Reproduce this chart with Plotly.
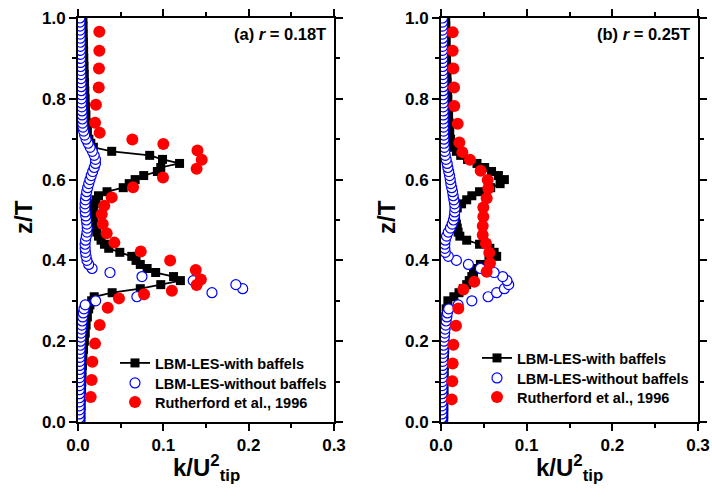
import plotly.graph_objects as go

# ---------------- data ----------------
# common simulation grid (z/T) for the "without baffels" profiles
z_grid = [
    0.00, 0.01, 0.02, 0.03, 0.04, 0.05, 0.06, 0.07, 0.08, 0.09,
    0.10, 0.11, 0.12, 0.13, 0.14, 0.15, 0.16, 0.17, 0.18, 0.19,
    0.20, 0.21, 0.22, 0.23, 0.24, 0.25, 0.26, 0.27, 0.28, 0.29,
    0.30, 0.31, 0.32, 0.33, 0.34, 0.35, 0.36, 0.37, 0.38, 0.39,
    0.40, 0.41, 0.42, 0.43, 0.44, 0.45, 0.46, 0.47, 0.48, 0.49,
    0.50, 0.51, 0.52, 0.53, 0.54, 0.55, 0.56, 0.57, 0.58, 0.59,
    0.60, 0.61, 0.62, 0.63, 0.64, 0.65, 0.66, 0.67, 0.68, 0.69,
    0.70, 0.71, 0.72, 0.73, 0.74, 0.75, 0.76, 0.77, 0.78, 0.79,
    0.80, 0.81, 0.82, 0.83, 0.84, 0.85, 0.86, 0.87, 0.88, 0.89,
    0.90, 0.91, 0.92, 0.93, 0.94, 0.95, 0.96, 0.97, 0.98, 0.99, 1.00,
]

# (a) r = 0.18T : LBM-LES-without baffels
nb_a_k = [
    0.0015, 0.0015, 0.0015, 0.0016, 0.0016, 0.0016, 0.0017, 0.0017, 0.0017, 0.0018,
    0.0018, 0.0019, 0.0019, 0.0020, 0.0020, 0.0021, 0.0022, 0.0023, 0.0025, 0.0027,
    0.0030, 0.0033, 0.0036, 0.0040, 0.0044, 0.0049, 0.0055, 0.0062, 0.0070, 0.0085,
    0.0207, 0.0690, 0.1570, 0.1930, 0.1850, 0.1350, 0.0750, 0.0375, 0.0165, 0.0125,
    0.0105, 0.0095, 0.0088, 0.0084, 0.0083, 0.0088, 0.0097, 0.0105, 0.0108, 0.0104,
    0.0098, 0.0091, 0.0085, 0.0082, 0.0083, 0.0087, 0.0093, 0.0102, 0.0113, 0.0126,
    0.0140, 0.0155, 0.0172, 0.0190, 0.0205, 0.0205, 0.0190, 0.0168, 0.0142, 0.0118,
    0.0095, 0.0078, 0.0066, 0.0058, 0.0053, 0.0050, 0.0048, 0.0046, 0.0044, 0.0042,
    0.0040, 0.0039, 0.0038, 0.0037, 0.0036, 0.0035, 0.0034, 0.0033, 0.0032, 0.0031,
    0.0030, 0.0029, 0.0028, 0.0028, 0.0027, 0.0026, 0.0025, 0.0025, 0.0024, 0.0023, 0.0022,
]

# (b) r = 0.25T : LBM-LES-without baffels
nb_b_k = [
    0.0010, 0.0010, 0.0011, 0.0011, 0.0012, 0.0012, 0.0013, 0.0013, 0.0014, 0.0014,
    0.0015, 0.0016, 0.0017, 0.0018, 0.0019, 0.0020, 0.0022, 0.0024, 0.0027, 0.0030,
    0.0034, 0.0038, 0.0043, 0.0048, 0.0054, 0.0060, 0.0068, 0.0075, 0.0090, 0.0200,
    0.0360, 0.0550, 0.0650, 0.0740, 0.0790, 0.0770, 0.0720, 0.0620, 0.0460, 0.0320,
    0.0180, 0.0085, 0.0050, 0.0045, 0.0045, 0.0050, 0.0065, 0.0085, 0.0110, 0.0130,
    0.0145, 0.0155, 0.0160, 0.0163, 0.0158, 0.0150, 0.0142, 0.0135, 0.0125, 0.0115,
    0.0108, 0.0100, 0.0090, 0.0080, 0.0072, 0.0060, 0.0050, 0.0045, 0.0040, 0.0036,
    0.0034, 0.0032, 0.0031, 0.0030, 0.0029, 0.0028, 0.0028, 0.0027, 0.0026, 0.0026,
    0.0025, 0.0025, 0.0024, 0.0024, 0.0023, 0.0023, 0.0022, 0.0022, 0.0021, 0.0021,
    0.0020, 0.0020, 0.0020, 0.0019, 0.0019, 0.0019, 0.0018, 0.0018, 0.0018, 0.0017, 0.0017,
]

# (a) r = 0.18T : LBM-LES-with baffels
wb_a_z = [
    1.00, 0.98, 0.96, 0.94, 0.92, 0.90, 0.88, 0.86, 0.84, 0.82,
    0.80, 0.78, 0.76, 0.74, 0.72, 0.70, 0.69, 0.68, 0.67, 0.66,
    0.65, 0.64, 0.63, 0.62, 0.61, 0.60, 0.59, 0.58, 0.57, 0.56,
    0.55, 0.54, 0.53, 0.52, 0.51, 0.50, 0.49, 0.48, 0.47, 0.46,
    0.45, 0.44, 0.43, 0.42, 0.41, 0.40, 0.39, 0.38, 0.37, 0.36,
    0.35, 0.34, 0.33, 0.32, 0.31, 0.30, 0.29, 0.28, 0.26, 0.24,
    0.22, 0.20, 0.18, 0.16, 0.14, 0.12, 0.10, 0.08, 0.06, 0.04,
    0.02, 0.00,
]
wb_a_k = [
    0.0058, 0.0060, 0.0062, 0.0064, 0.0066, 0.0068, 0.0071, 0.0074, 0.0077, 0.0080,
    0.0084, 0.0088, 0.0093, 0.0099, 0.0110, 0.0128, 0.0150, 0.0180, 0.0395, 0.0840,
    0.0990, 0.1190, 0.0970, 0.0930, 0.0770, 0.0670, 0.0600, 0.0530, 0.0340, 0.0240,
    0.0210, 0.0190, 0.0180, 0.0175, 0.0175, 0.0180, 0.0190, 0.0200, 0.0220, 0.0240,
    0.0270, 0.0310, 0.0360, 0.0490, 0.0630, 0.0680, 0.0730, 0.0810, 0.0910, 0.1120,
    0.1200, 0.0970, 0.0730, 0.0400, 0.0190, 0.0160, 0.0140, 0.0125, 0.0110, 0.0095,
    0.0085, 0.0075, 0.0065, 0.0058, 0.0052, 0.0048, 0.0045, 0.0042, 0.0040, 0.0038,
    0.0036, 0.0035,
]

# (b) r = 0.25T : LBM-LES-with baffels
wb_b_z = [
    1.00, 0.98, 0.96, 0.94, 0.92, 0.90, 0.88, 0.86, 0.84, 0.82,
    0.80, 0.78, 0.76, 0.74, 0.72, 0.70, 0.69, 0.68, 0.67, 0.66,
    0.65, 0.64, 0.63, 0.62, 0.61, 0.60, 0.59, 0.58, 0.57, 0.56,
    0.55, 0.54, 0.53, 0.52, 0.51, 0.50, 0.49, 0.48, 0.47, 0.46,
    0.45, 0.44, 0.43, 0.42, 0.41, 0.40, 0.39, 0.38, 0.37, 0.36,
    0.35, 0.34, 0.33, 0.32, 0.31, 0.30, 0.28, 0.26, 0.24, 0.22,
    0.20, 0.18, 0.16, 0.14, 0.12, 0.10, 0.08, 0.06, 0.04, 0.02,
    0.00,
]
wb_b_k = [
    0.0055, 0.0057, 0.0059, 0.0061, 0.0063, 0.0065, 0.0067, 0.0070, 0.0073, 0.0076,
    0.0080, 0.0084, 0.0089, 0.0095, 0.0102, 0.0112, 0.0120, 0.0145, 0.0180, 0.0230,
    0.0310, 0.0420, 0.0510, 0.0590, 0.0670, 0.0740, 0.0690, 0.0580, 0.0450, 0.0360,
    0.0300, 0.0240, 0.0190, 0.0170, 0.0160, 0.0170, 0.0180, 0.0190, 0.0200, 0.0220,
    0.0300, 0.0450, 0.0570, 0.0620, 0.0650, 0.0560, 0.0460, 0.0410, 0.0380, 0.0360,
    0.0330, 0.0300, 0.0260, 0.0210, 0.0150, 0.0080, 0.0060, 0.0055, 0.0050, 0.0047,
    0.0045, 0.0043, 0.0041, 0.0040, 0.0038, 0.0037, 0.0036, 0.0035, 0.0034, 0.0033,
    0.0032,
]

# Rutherford et al., 1996 (experiment)
ex_a_z = [0.966, 0.919, 0.875, 0.828, 0.785, 0.741, 0.716, 0.699, 0.688, 0.672,
          0.649, 0.627, 0.605, 0.581, 0.556, 0.535, 0.514, 0.490, 0.467, 0.444,
          0.422, 0.400, 0.376, 0.353, 0.339, 0.325, 0.316, 0.306, 0.283, 0.240,
          0.194, 0.149, 0.104, 0.062]
ex_a_k = [0.0250, 0.0250, 0.0246, 0.0243, 0.0210, 0.0200, 0.0254, 0.0637, 0.1000, 0.1400,
          0.1450, 0.1390, 0.0996, 0.0645, 0.0395, 0.0308, 0.0278, 0.0290, 0.0336, 0.0426,
          0.0735, 0.1080, 0.1380, 0.1440, 0.1390, 0.1100, 0.0774, 0.0480, 0.0348, 0.0254,
          0.0200, 0.0168, 0.0160, 0.0149]
ex_b_z = [0.965, 0.919, 0.875, 0.828, 0.782, 0.738, 0.692, 0.668, 0.649, 0.622,
          0.599, 0.578, 0.554, 0.531, 0.508, 0.485, 0.463, 0.442, 0.419, 0.393,
          0.372, 0.347, 0.328, 0.281, 0.238, 0.191, 0.145, 0.101, 0.056]
ex_b_k = [0.0136, 0.0136, 0.0144, 0.0152, 0.0155, 0.0195, 0.0214, 0.0249, 0.0338, 0.0463,
          0.0545, 0.0552, 0.0533, 0.0494, 0.0494, 0.0487, 0.0487, 0.0525, 0.0564, 0.0572,
          0.0533, 0.0389, 0.0260, 0.0202, 0.0175, 0.0144, 0.0136, 0.0132, 0.0125]

x_ticks = [0.0, 0.1, 0.2, 0.3]
y_ticks = [0.0, 0.2, 0.4, 0.6, 0.8, 1.0]
panel_labels = ["(a) <i>r</i> = 0.18T", "(b) <i>r</i> = 0.25T"]
series_names = ["LBM-LES-with baffels", "LBM-LES-without baffels", "Rutherford et al., 1996"]

# ---------------- figure ----------------
W, H = 712, 500
FONT = "Liberation Sans, Arial, Helvetica, sans-serif"
BLUE = "#0000ff"
RED = "#ff0000"

fig = go.Figure()


def add_panel(xa, ya, wb_z, wb_k, nb_k, ex_z, ex_k, legends):
    fig.add_trace(go.Scatter(
        x=wb_k, y=wb_z, xaxis=xa, yaxis=ya, mode="lines+markers", name=series_names[0],
        line=dict(color="black", width=1.8),
        marker=dict(symbol="square", size=9, color="black"),
        legend=legends[0], hoverinfo="skip"))
    fig.add_trace(go.Scatter(
        x=nb_k, y=z_grid, xaxis=xa, yaxis=ya, mode="markers", name=series_names[1],
        marker=dict(symbol="circle", size=10, color="white", line=dict(color=BLUE, width=1.2)),
        legend=legends[1], hoverinfo="skip"))
    fig.add_trace(go.Scatter(
        x=ex_k, y=ex_z, xaxis=xa, yaxis=ya, mode="markers", name=series_names[2],
        marker=dict(symbol="circle", size=12, color=RED, line=dict(width=0)),
        legend=legends[2], hoverinfo="skip"))


add_panel("x", "y", wb_a_z, wb_a_k, nb_a_k, ex_a_z, ex_a_k, ["legend", "legend2", "legend3"])
add_panel("x2", "y2", wb_b_z, wb_b_k, nb_b_k, ex_b_z, ex_b_k, ["legend4", "legend5", "legend6"])

tickfont = dict(family=FONT, size=17, color="black", weight="bold")
minor_common = dict(ticks="outside", ticklen=4, tickwidth=2, tickcolor="black", showgrid=False)
ax_common = dict(showline=True, linewidth=2, linecolor="black", mirror="allticks",
                 ticks="outside", ticklen=7, tickwidth=2, tickcolor="black",
                 showgrid=False, zeroline=False, tickfont=tickfont, fixedrange=True,
                 automargin=False)

x_dom_a = [78 / W, 334 / W]
x_dom_b = [441 / W, 698 / W]
y_dom = [(H - 422) / H, (H - 18) / H]

legend_font = dict(family=FONT, size=14.5, color="black", weight="bold")
legend_layout = {}
rows = [("legend", 115, 363), ("legend2", 115, 383), ("legend3", 115, 402),
        ("legend4", 477, 358), ("legend5", 477, 378), ("legend6", 477, 397)]
for key, lx, ly in rows:
    legend_layout[key] = dict(x=lx / W, y=1 - ly / H, xanchor="left", yanchor="middle",
                              bgcolor="rgba(0,0,0,0)", borderwidth=0, font=legend_font)

fig.update_layout(
    width=W, height=H,
    margin=dict(l=0, r=0, t=0, b=0, autoexpand=False),
    paper_bgcolor="white", plot_bgcolor="white",
    xaxis=dict(domain=x_dom_a, anchor="y", range=[0, 0.3], tickvals=x_ticks,
               ticktext=[f"{v:.1f}" for v in x_ticks],
               minor=dict(dtick=0.05, tick0=0, **minor_common), **ax_common),
    yaxis=dict(domain=y_dom, anchor="x", range=[0, 1.0], tickvals=y_ticks,
               ticktext=[f"{v:.1f}" for v in y_ticks],
               minor=dict(dtick=0.1, tick0=0, **minor_common), **ax_common),
    xaxis2=dict(domain=x_dom_b, anchor="y2", range=[0, 0.3], tickvals=x_ticks,
                ticktext=[f"{v:.1f}" for v in x_ticks],
                minor=dict(dtick=0.05, tick0=0, **minor_common), **ax_common),
    yaxis2=dict(domain=y_dom, anchor="x2", range=[0, 1.0], tickvals=y_ticks,
                ticktext=[f"{v:.1f}" for v in y_ticks],
                minor=dict(dtick=0.1, tick0=0, **minor_common), **ax_common),
    showlegend=True,
    **legend_layout,
)

ann_font_big = dict(family=FONT, size=24, color="black", weight="bold")
ann_font_lab = dict(family=FONT, size=16.5, color="black", weight="bold")
annotations = []
for cx, ycx, lab_right, lab in [(206, 24, 328, panel_labels[0]), (569.5, 387, 692, panel_labels[1])]:
    annotations.append(dict(text="z/T", x=ycx / W, y=1 - 217 / H, xref="paper", yref="paper",
                            textangle=-90, showarrow=False, font=ann_font_big,
                            xanchor="center", yanchor="middle"))
    annotations.append(dict(text="k/U<sup>2</sup><sub>tip</sub>", x=cx / W, y=1 - 468 / H,
                            xref="paper", yref="paper", showarrow=False, font=ann_font_big,
                            xanchor="center", yanchor="middle"))
    annotations.append(dict(text=lab, x=lab_right / W, y=1 - 34 / H, xref="paper", yref="paper",
                            showarrow=False, font=ann_font_lab, xanchor="right", yanchor="middle"))
fig.update_layout(annotations=annotations)

fig.write_html("out.html")
